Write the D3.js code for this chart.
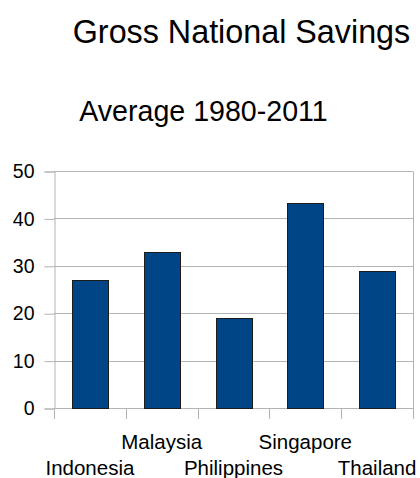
<!DOCTYPE html>
<html>
<head>
<meta charset="utf-8">
<script src="https://cdn.jsdelivr.net/npm/d3@7"></script>
<style>
  html, body { margin: 0; padding: 0; background: #fff; }
  svg { display: block; font-family: "Liberation Sans", Arial, sans-serif; }
</style>
</head>
<body>
<svg id="chart" width="420" height="478"></svg>
<script>
// === DATA ===
const countries = ["Indonesia", "Malaysia", "Philippines", "Singapore", "Thailand"];
const savings = [27, 33, 19, 43.2, 29];
const yTicks = [0, 10, 20, 30, 40, 50];

// === LAYOUT ===
const plot = { left: 54, right: 413, top: 171, bottom: 408 };
const svg = d3.select("#chart");

const x = d3.scaleBand()
    .domain(countries)
    .range([plot.left, plot.right])
    .paddingInner(0.5)
    .paddingOuter(0.25);

const y = d3.scaleLinear()
    .domain([0, 50])
    .range([plot.bottom, plot.top]);

// titles
svg.append("text")
    .attr("x", 241.5).attr("y", 43)
    .attr("text-anchor", "middle")
    .attr("font-size", "32.3px")
    .attr("fill", "#000")
    .text("Gross National Savings");

svg.append("text")
    .attr("x", 203.5).attr("y", 121)
    .attr("text-anchor", "middle")
    .attr("font-size", "28.6px")
    .attr("fill", "#000")
    .text("Average 1980-2011");

// horizontal grid lines
svg.append("g")
    .selectAll("line")
    .data(yTicks)
    .join("line")
    .attr("x1", plot.left).attr("x2", plot.right)
    .attr("y1", d => Math.round(y(d)) + 0.5)
    .attr("y2", d => Math.round(y(d)) + 0.5)
    .attr("stroke", "#b3b3b3");

// right border
svg.append("line")
    .attr("x1", plot.right + 0.5).attr("x2", plot.right + 0.5)
    .attr("y1", Math.round(plot.top) + 0.5).attr("y2", Math.round(plot.bottom) + 0.5)
    .attr("stroke", "#b3b3b3");

// y axis
const yAxis = d3.axisLeft(y)
    .tickValues(yTicks)
    .tickSize(10)
    .tickPadding(10)
    .tickFormat(d3.format("d"));

const yg = svg.append("g")
    .attr("transform", "translate(" + (plot.left + 0.5) + ",0.5)")
    .call(yAxis);
yg.select(".domain").attr("stroke", "#b3b3b3");
yg.selectAll(".tick line").attr("stroke", "#b3b3b3");
yg.selectAll(".tick text")
    .attr("font-size", "19.5px")
    .attr("font-family", "Liberation Sans, Arial, sans-serif")
    .attr("fill", "#000");

// category separators below axis
const step = x.step();
const bounds = countries.map(c => x(c) - step * 0.25).concat([plot.right]);
svg.append("g")
    .selectAll("line")
    .data(bounds)
    .join("line")
    .attr("x1", d => Math.round(d) + 0.5).attr("x2", d => Math.round(d) + 0.5)
    .attr("y1", plot.bottom).attr("y2", plot.bottom + 11)
    .attr("stroke", "#b3b3b3");

// bars
svg.append("g")
    .selectAll("rect")
    .data(countries)
    .join("rect")
    .attr("x", d => Math.round(x(d)) + 0.5)
    .attr("y", (d, i) => Math.round(y(savings[i])) + 0.5)
    .attr("width", Math.round(x.bandwidth()))
    .attr("height", (d, i) => Math.round(y(0)) - Math.round(y(savings[i])))
    .attr("fill", "#004586")
    .attr("stroke", "#1c1c1c")
    .attr("stroke-width", 1);

// staggered category labels
svg.append("g")
    .selectAll("text")
    .data(countries)
    .join("text")
    .attr("x", d => x(d) + x.bandwidth() / 2)
    .attr("y", (d, i) => i % 2 === 0 ? 475 : 449)
    .attr("text-anchor", "middle")
    .attr("font-size", "20.5px")
    .attr("fill", "#000")
    .text(d => d);
</script>
</body>
</html>
